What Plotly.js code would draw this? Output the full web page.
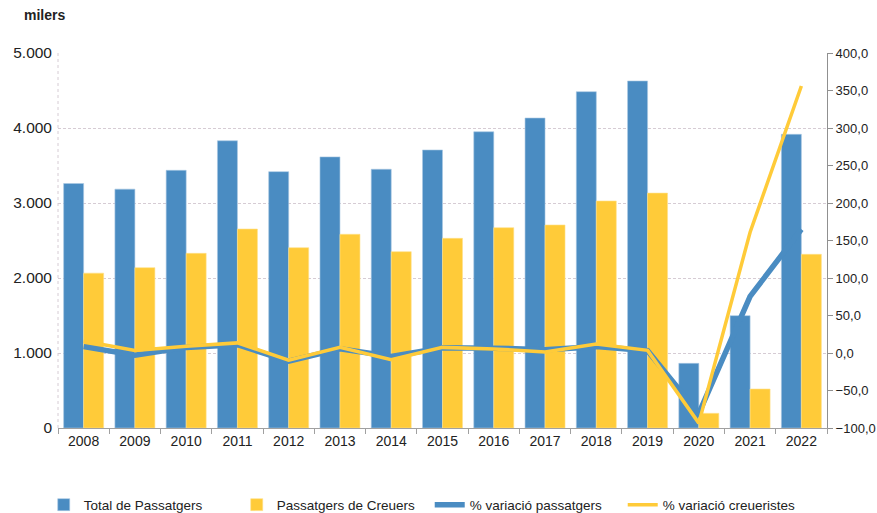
<!DOCTYPE html>
<html>
<head>
<meta charset="utf-8">
<script src="https://cdn.plot.ly/plotly-3.0.1.min.js"></script>
<style>
  html, body { margin: 0; padding: 0; background: #fff; }
  #chart { width: 877px; height: 513px; }
</style>
</head>
<body>
<div id="chart"></div>
<script>
const years = ['2008','2009','2010','2011','2012','2013','2014','2015','2016','2017','2018','2019','2020','2021','2022'];
const totalPassatgers = [3260, 3185, 3436, 3830, 3418, 3615, 3450, 3707, 3950, 4133, 4484, 4627, 862, 1498, 3916];
const passatgersCreuers = [2065, 2138, 2329, 2653, 2404, 2583, 2351, 2529, 2671, 2707, 3027, 3132, 196, 520, 2316];
const varPassatgers = [8.5, -3, 7.5, 11, -11, 5.5, -4.5, 7, 6.5, 4.5, 8.5, 3, -80.5, 75.5, 165];
const varCreueristes = [16, 3.5, 9, 13.5, -9.5, 7.5, -9, 7.5, 5.5, 1.5, 12, 3.5, -93.5, 161, 356];

const blue = '#4a8cc2';
const yellow = '#ffcb39';
const font = 'Liberation Sans, Arial, sans-serif';

const traces = [
  { type: 'bar', name: 'Total de Passatgers', x: years, y: totalPassatgers,
    marker: { color: blue, line: { color: '#a9c7e2', width: 0.6 } }, yaxis: 'y' },
  { type: 'bar', name: 'Passatgers de Creuers', x: years, y: passatgersCreuers,
    marker: { color: yellow, line: { color: '#ffe08a', width: 0.6 } }, yaxis: 'y' },
  { type: 'scatter', mode: 'lines', name: '% variació passatgers', x: years, y: varPassatgers,
    line: { color: blue, width: 5.5 }, yaxis: 'y2' },
  { type: 'scatter', mode: 'lines', name: '% variació creueristes', x: years, y: varCreueristes,
    line: { color: yellow, width: 3.5 }, yaxis: 'y2' }
];

const layout = {
  width: 877, height: 513,
  paper_bgcolor: '#ffffff', plot_bgcolor: '#ffffff',
  separators: ',.',
  font: { family: font, size: 13, color: '#222' },
  margin: { l: 58, r: 50, t: 53, b: 85, autoexpand: false },
  barmode: 'group', bargap: 0.22, bargroupgap: 0,
  showlegend: true,
  legend: { orientation: 'h', xref: 'container', x: 0.49, xanchor: 'center', y: -0.205, yanchor: 'middle',
            font: { family: font, size: 13.5, color: '#222' }, traceorder: 'normal', entrywidth: 148,
            itemwidth: 30 },
  xaxis: { type: 'category', tickson: 'boundaries', ticks: 'outside', ticklen: 5, tickcolor: '#a0a0a0',
           showline: true, linecolor: '#a0a0a0', linewidth: 1, showgrid: false,
           tickfont: { family: font, size: 14, color: '#222' } },
  yaxis: { range: [0, 5000], dtick: 1000, tickformat: ',.0f', showgrid: true,
           gridcolor: '#d6ccd4', griddash: '3px,2px', gridwidth: 1, zeroline: false,
           showline: false, ticks: '', ticklabelstandoff: 5,
           tickfont: { family: font, size: 15.5, color: '#222' } },
  yaxis2: { overlaying: 'y', side: 'right', range: [-100, 400], dtick: 50, tickformat: '.1f',
            showgrid: false, zeroline: false, showline: true, linecolor: '#909090', linewidth: 1,
            ticks: 'outside', ticklen: 5, tickcolor: '#909090', ticklabelstandoff: 0,
            tickfont: { family: font, size: 13, color: '#222' } },
  annotations: [
    { text: '<b>milers</b>', xref: 'paper', yref: 'paper', x: -0.047, y: 1.1, xanchor: 'left', yanchor: 'middle',
      showarrow: false, font: { family: font, size: 14, color: '#222' } }
  ],
  shapes: [
    { type: 'line', xref: 'paper', yref: 'paper', x0: 0, x1: 0, y0: 0, y1: 1,
      line: { color: '#d6ccd4', width: 1, dash: 'dot' } }
  ]
};

Plotly.newPlot('chart', traces, layout, { displayModeBar: false, staticPlot: true });
</script>
</body>
</html>
